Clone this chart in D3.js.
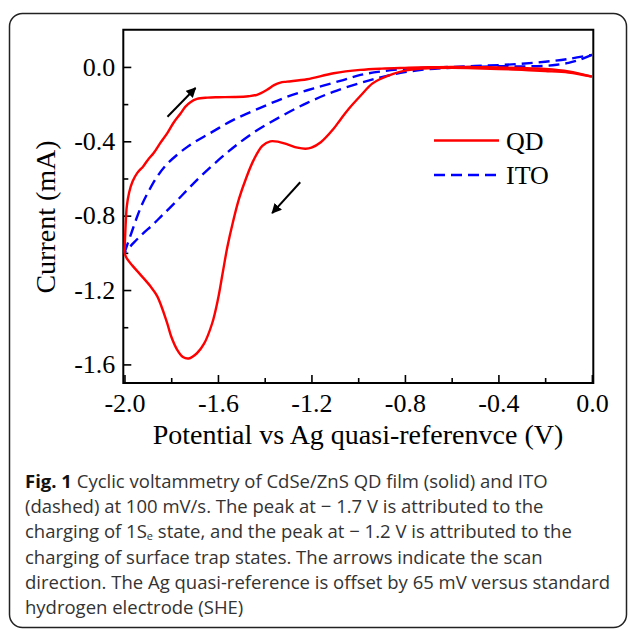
<!DOCTYPE html>
<html>
<head>
<meta charset="utf-8">
<script src="https://cdn.jsdelivr.net/npm/d3@7"></script>
<style>
  body { margin: 0; background: #fff; }
  svg { display: block; }
</style>
</head>
<body>
<div id="chart"></div>
<script>
// CV data: [potential (V), current (mA)]
const qdForward = [
  [0.0, -0.052], [-0.1, -0.03], [-0.2, -0.022], [-0.3, -0.016], [-0.4, -0.011], [-0.5, -0.007],
  [-0.6, -0.005], [-0.7, -0.007], [-0.75, -0.011], [-0.8, -0.02], [-0.85, -0.037], [-0.9, -0.062],
  [-0.94, -0.09], [-0.99, -0.155], [-1.04, -0.225], [-1.077, -0.285], [-1.107, -0.335], [-1.16, -0.405],
  [-1.2, -0.434], [-1.225, -0.44], [-1.26, -0.434], [-1.3, -0.418], [-1.34, -0.403], [-1.376, -0.40],
  [-1.41, -0.425], [-1.447, -0.50], [-1.48, -0.60], [-1.51, -0.71], [-1.535, -0.83], [-1.56, -0.97],
  [-1.58, -1.11], [-1.6, -1.25], [-1.625, -1.38], [-1.66, -1.49], [-1.69, -1.54], [-1.725, -1.568],
  [-1.75, -1.56], [-1.775, -1.52], [-1.8, -1.45], [-1.818, -1.375], [-1.86, -1.233], [-1.889, -1.18],
  [-1.932, -1.117], [-1.965, -1.07], [-1.99, -1.03], [-2.0, -1.0]
];
const qdReturn = [
  [-2.0, -1.0], [-1.995, -0.85], [-1.99, -0.75], [-1.98, -0.675], [-1.965, -0.615], [-1.945, -0.57],
  [-1.92, -0.535], [-1.9, -0.50], [-1.875, -0.463], [-1.85, -0.415], [-1.816, -0.355], [-1.79, -0.30],
  [-1.76, -0.25], [-1.74, -0.215], [-1.718, -0.19], [-1.69, -0.172], [-1.645, -0.165], [-1.6, -0.163],
  [-1.53, -0.162], [-1.47, -0.158], [-1.433, -0.15], [-1.39, -0.123], [-1.36, -0.098], [-1.333, -0.084],
  [-1.305, -0.079], [-1.219, -0.066], [-1.105, -0.034], [-0.991, -0.016], [-0.9, -0.009], [-0.8, -0.005],
  [-0.7, -0.002], [-0.6, 0.0], [-0.5, -0.001], [-0.4, -0.003], [-0.3, -0.006], [-0.2, -0.011],
  [-0.1, -0.024], [0.0, -0.052]
];
const itoForward = [
  [0.0, 0.065], [-0.05, 0.04], [-0.1, 0.022], [-0.15, 0.012], [-0.2, 0.006], [-0.3, 0.003],
  [-0.4, 0.004], [-0.5, 0.0], [-0.6, -0.004], [-0.7, -0.012], [-0.8, -0.028], [-0.9, -0.055],
  [-0.99, -0.086], [-1.107, -0.134], [-1.218, -0.193], [-1.333, -0.268], [-1.45, -0.355], [-1.56, -0.46],
  [-1.675, -0.59], [-1.73, -0.66], [-1.78, -0.725], [-1.84, -0.80], [-1.88, -0.85], [-1.92, -0.895],
  [-1.96, -0.945], [-2.0, -1.0]
];
const itoReturn = [
  [-2.0, -1.0], [-1.975, -0.91], [-1.95, -0.82], [-1.925, -0.74], [-1.895, -0.665], [-1.86, -0.59],
  [-1.816, -0.52], [-1.731, -0.43], [-1.632, -0.355], [-1.534, -0.285], [-1.419, -0.22], [-1.303, -0.16],
  [-1.19, -0.115], [-1.077, -0.075], [-0.99, -0.043], [-0.9, -0.024], [-0.8, -0.011], [-0.7, -0.004],
  [-0.6, 0.0], [-0.5, 0.005], [-0.4, 0.01], [-0.3, 0.017], [-0.2, 0.028], [-0.1, 0.043], [0.0, 0.065]
];

const xMajor = [-2.0, -1.6, -1.2, -0.8, -0.4, 0.0];
const xMinor = [-1.8, -1.4, -1.0, -0.6, -0.2];
const yMajor = [0.0, -0.4, -0.8, -1.2, -1.6];
const yMinor = [-0.2, -0.6, -1.0, -1.4];

const legendItems = [
  {name: "QD", color: "#ff0000", dash: null},
  {name: "ITO", color: "#0000ff", dash: "11,6"}
];

// scan-direction arrows: [from, to] in data units
const arrows = [
  [[-1.816, -0.268], [-1.696, -0.113]],
  [[-1.248, -0.62], [-1.368, -0.786]]
];

const captionLines = [
  [{t: "Fig. 1", b: true}, {t: " Cyclic voltammetry of CdSe/ZnS QD film (solid) and ITO"}],
  [{t: "(dashed) at 100 mV/s. The peak at \u2212 1.7 V is attributed to the"}],
  [{t: "charging of 1S"}, {t: "e", sub: true}, {t: " state, and the peak at \u2212 1.2 V is attributed to the", after: true}],
  [{t: "charging of surface trap states. The arrows indicate the scan"}],
  [{t: "direction. The Ag quasi-reference is offset by 65 mV versus standard"}],
  [{t: "hydrogen electrode (SHE)"}]
];

const W = 630, H = 630;
const serif = "'Liberation Serif', 'Times New Roman', serif";

const svg = d3.select("#chart").append("svg")
  .attr("width", W)
  .attr("height", H);

// outer rounded frame
svg.append("rect")
  .attr("x", 9.5).attr("y", 13.5)
  .attr("width", 617).attr("height", 614)
  .attr("rx", 13)
  .attr("fill", "none")
  .attr("stroke", "#222")
  .attr("stroke-width", 1.5);

const x = d3.scaleLinear().domain([-2.005, 0.006]).range([123.3, 593.3]);
const y = d3.scaleLinear().domain([-1.7, 0.2]).range([383, 29.75]);

// axes, ticks pointing inward
svg.append("g")
  .attr("transform", `translate(0,${y.range()[0]})`)
  .call(d3.axisBottom(x).tickValues(xMajor).tickSize(-8).tickPadding(11).tickFormat(d3.format(".1f")));
svg.append("g")
  .attr("transform", `translate(0,${y.range()[0]})`)
  .call(d3.axisBottom(x).tickValues(xMinor).tickSize(-5).tickFormat(""));

svg.append("g")
  .attr("transform", `translate(${x.range()[0]},0)`)
  .call(d3.axisLeft(y).tickValues(yMajor).tickSize(-8).tickPadding(8).tickFormat(d3.format(".1f")));
svg.append("g")
  .attr("transform", `translate(${x.range()[0]},0)`)
  .call(d3.axisLeft(y).tickValues(yMinor).tickSize(-5).tickFormat(""));

svg.selectAll(".domain").remove();
svg.selectAll(".tick line").attr("stroke", "#000").attr("stroke-width", 1.6);
svg.selectAll(".tick text")
  .attr("font-family", serif)
  .attr("font-size", 26)
  .attr("fill", "#000")
  .text(function() { return d3.select(this).text().replace("\u2212", "-"); });

// plot frame
svg.append("rect")
  .attr("x", x.range()[0]).attr("y", y.range()[1])
  .attr("width", x.range()[1] - x.range()[0])
  .attr("height", y.range()[0] - y.range()[1])
  .attr("fill", "none")
  .attr("stroke", "#000")
  .attr("stroke-width", 2);

// curves
const line = d3.line()
  .x(d => x(d[0]))
  .y(d => y(d[1]))
  .curve(d3.curveCatmullRom.alpha(0.5));

const series = [
  {data: itoForward, item: legendItems[1]},
  {data: itoReturn, item: legendItems[1]},
  {data: qdForward, item: legendItems[0]},
  {data: qdReturn, item: legendItems[0]}
];

svg.append("g").selectAll("path")
  .data(series)
  .join("path")
  .attr("d", d => line(d.data))
  .attr("fill", "none")
  .attr("stroke", d => d.item.color)
  .attr("stroke-width", 2.4)
  .attr("stroke-dasharray", d => d.item.dash);

// arrows
svg.append("defs").append("marker")
  .attr("id", "head")
  .attr("viewBox", "0 0 10 10")
  .attr("refX", 9).attr("refY", 5)
  .attr("markerWidth", 5).attr("markerHeight", 5)
  .attr("orient", "auto")
  .append("path")
  .attr("d", "M0,0 L10,5 L0,10 z")
  .attr("fill", "#000");

svg.append("g").selectAll("line")
  .data(arrows)
  .join("line")
  .attr("x1", d => x(d[0][0])).attr("y1", d => y(d[0][1]))
  .attr("x2", d => x(d[1][0])).attr("y2", d => y(d[1][1]))
  .attr("stroke", "#000")
  .attr("stroke-width", 2)
  .attr("marker-end", "url(#head)");

// legend
const legend = svg.append("g").attr("transform", "translate(434,140.5)");
legendItems.forEach((it, i) => {
  const g = legend.append("g").attr("transform", `translate(0,${i * 34.5})`);
  g.append("line")
    .attr("x1", 0).attr("x2", 65)
    .attr("stroke", it.color)
    .attr("stroke-width", 2.4)
    .attr("stroke-dasharray", it.dash);
  g.append("text")
    .attr("x", 72).attr("y", 9)
    .attr("font-family", serif)
    .attr("font-size", 26)
    .text(it.name);
});

// axis titles
svg.append("text")
  .attr("x", 358).attr("y", 444)
  .attr("text-anchor", "middle")
  .attr("font-family", serif)
  .attr("font-size", 28)
  .text("Potential vs Ag quasi-referenvce (V)");

svg.append("text")
  .attr("transform", "translate(55,217) rotate(-90)")
  .attr("text-anchor", "middle")
  .attr("font-family", serif)
  .attr("font-size", 28)
  .text("Current (mA)");

// caption
const cap = svg.append("text")
  .attr("font-family", "'Open Sans', 'Noto Sans', sans-serif")
  .attr("font-size", 18.5)
  .attr("fill", "#333");

captionLines.forEach((parts, i) => {
  const row = cap.append("tspan").attr("x", 25).attr("y", 488 + i * 25.2);
  parts.forEach(p => {
    const s = row.append("tspan").text(p.t);
    if (p.b) s.attr("font-weight", "bold").attr("fill", "#111");
    if (p.sub) s.attr("font-size", 11).attr("dy", 1.8);
    if (p.after) s.attr("dy", -1.8);
  });
});
</script>
</body>
</html>
